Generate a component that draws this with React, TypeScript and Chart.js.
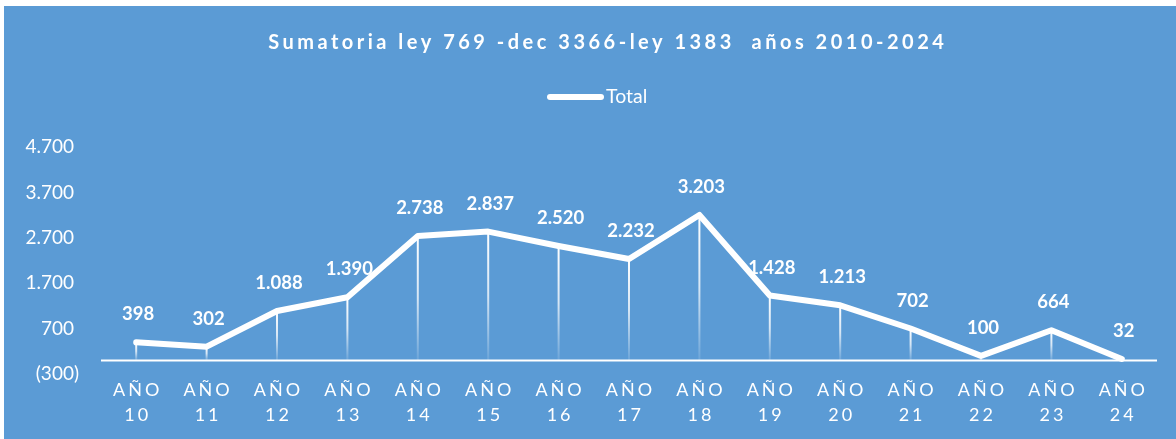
import React, { useEffect, useRef } from 'react';
import { Chart, registerables } from 'chart.js';

Chart.register(...registerables);

const titleText = 'Sumatoria ley 769 -dec 3366-ley 1383  años 2010-2024';
const seriesName = 'Total';
const yearPrefix = 'AÑO';
const categories = ['10', '11', '12', '13', '14', '15', '16', '17', '18', '19', '20', '21', '22', '23', '24'];
const totals = [398, 302, 1088, 1390, 2738, 2837, 2520, 2232, 3203, 1428, 1213, 702, 100, 664, 32];
const yTicks = [-300, 700, 1700, 2700, 3700, 4700];

const BLUE = '#5B9BD5';
const WHITE = '#FFFFFF';
const FONT = 'Lato, "Open Sans", sans-serif';

function fmt(v: number): string {
  const s = String(Math.abs(Math.round(v))).replace(/\B(?=(\d{3})+(?!\d))/g, '.');
  return v < 0 ? `(${s})` : `${s} `;
}

const decoPlugin = {
  id: 'deco',
  beforeDraw(chart: any) {
    const { ctx, width, height } = chart;
    ctx.save();
    ctx.fillStyle = WHITE;
    ctx.fillRect(0, 0, width, height);
    ctx.fillStyle = BLUE;
    ctx.fillRect(4, 6, width - 4, height - 6);
    // title
    ctx.fillStyle = WHITE;
    ctx.font = `bold 20px ${FONT}`;
    (ctx as any).letterSpacing = '3.5px';
    ctx.textAlign = 'center';
    ctx.textBaseline = 'alphabetic';
    ctx.fillText(titleText, 606 + 1.75, 49);
    (ctx as any).letterSpacing = '0px';
    // legend
    ctx.strokeStyle = WHITE;
    ctx.lineWidth = 6;
    ctx.lineCap = 'round';
    ctx.beginPath();
    ctx.moveTo(550, 97);
    ctx.lineTo(601, 97);
    ctx.stroke();
    ctx.font = `19.5px ${FONT}`;
    ctx.textAlign = 'left';
    ctx.textBaseline = 'middle';
    ctx.fillText(seriesName, 606, 97);
    ctx.restore();
  },
  beforeDatasetsDraw(chart: any) {
    const { ctx, chartArea } = chart;
    const y0 = chart.scales.y.getPixelForValue(0);
    const meta = chart.getDatasetMeta(0);
    ctx.save();
    // drop lines
    meta.data.forEach((pt: any) => {
      const g = ctx.createLinearGradient(0, pt.y, 0, y0);
      g.addColorStop(0, 'rgba(255,255,255,1)');
      g.addColorStop(0.5, 'rgba(255,255,255,0.75)');
      g.addColorStop(1, 'rgba(255,255,255,0.1)');
      ctx.strokeStyle = g;
      ctx.lineWidth = 2;
      ctx.beginPath();
      ctx.moveTo(pt.x, pt.y);
      ctx.lineTo(pt.x, y0);
      ctx.stroke();
    });
    // horizontal axis line at zero
    ctx.strokeStyle = WHITE;
    ctx.lineWidth = 2;
    ctx.beginPath();
    ctx.moveTo(chartArea.left, y0);
    ctx.lineTo(chartArea.right, y0);
    ctx.stroke();
    ctx.restore();
  },
  afterDatasetsDraw(chart: any) {
    const { ctx } = chart;
    const meta = chart.getDatasetMeta(0);
    const xs = chart.scales.x;
    ctx.save();
    ctx.fillStyle = WHITE;
    ctx.textAlign = 'center';
    ctx.textBaseline = 'alphabetic';
    // data labels
    ctx.font = `bold 18.5px ${FONT}`;
    meta.data.forEach((pt: any, i: number) => {
      ctx.fillText(fmt(totals[i]).trim(), pt.x + 2, pt.y - 22);
    });
    // category labels
    ctx.font = `18px ${FONT}`;
    (ctx as any).letterSpacing = '3px';
    categories.forEach((c, i) => {
      const x = xs.getPixelForValue(i) + 1.5;
      ctx.fillText(yearPrefix, x, 396);
      ctx.fillText(c, x, 421);
    });
    (ctx as any).letterSpacing = '0px';
    ctx.restore();
  },
};

export default function App() {
  const ref = useRef<HTMLCanvasElement | null>(null);
  useEffect(() => {
    if (!ref.current) return;
    const chart = new Chart(ref.current, {
      type: 'line',
      data: {
        labels: categories.map((c) => [yearPrefix, c]),
        datasets: [
          {
            label: seriesName,
            data: totals,
            borderColor: WHITE,
            backgroundColor: WHITE,
            borderWidth: 6,
            borderCapStyle: 'round',
            borderJoinStyle: 'round',
            pointRadius: 0,
            tension: 0,
            fill: false,
          },
        ],
      },
      options: {
        responsive: false,
        animation: false,
        events: [],
        layout: { padding: { top: 147, right: 19, left: 0, bottom: 0 } },
        plugins: {
          legend: { display: false },
          title: { display: false },
          tooltip: { enabled: false },
        },
        scales: {
          x: {
            type: 'category',
            offset: true,
            grid: { display: false },
            border: { display: false },
            ticks: { display: false },
            afterFit: (s: any) => {
              s.height = 65;
            },
          },
          y: {
            type: 'linear',
            min: -300,
            max: 4700,
            grid: { display: false },
            border: { display: false },
            afterBuildTicks: (s: any) => {
              s.ticks = yTicks.map((v) => ({ value: v }));
            },
            afterFit: (s: any) => {
              s.width = 101;
            },
            ticks: {
              color: WHITE,
              padding: 14,
              font: { family: FONT, size: 19 },
              callback: (v: any) => fmt(Number(v)),
            },
          },
        },
      },
      plugins: [decoPlugin],
    });
    return () => chart.destroy();
  }, []);
  return (
    <div style={{ position: 'fixed', left: 0, top: 0, width: 1176, height: 439 }}>
      <canvas ref={ref} width={1176} height={439} style={{ display: 'block' }} />
    </div>
  );
}
